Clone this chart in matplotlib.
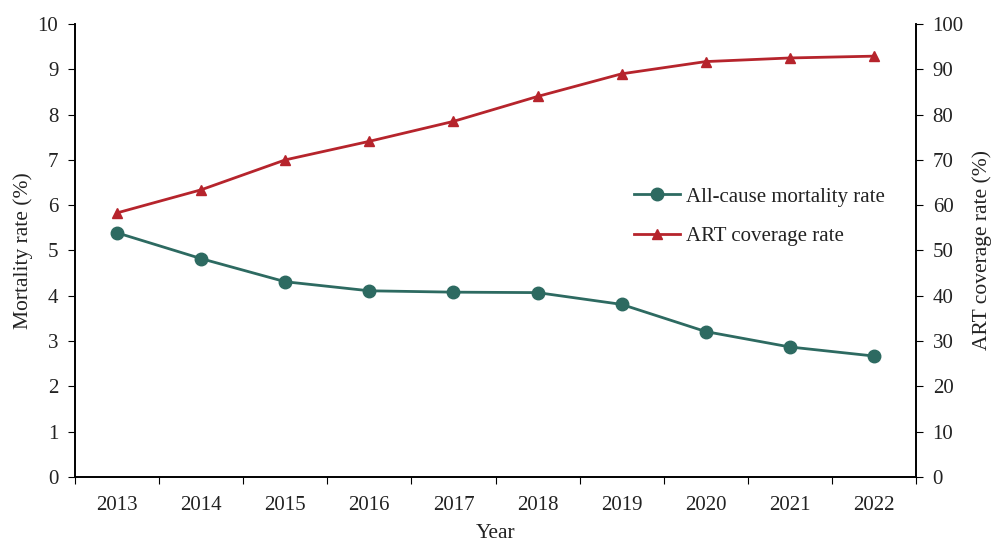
import numpy as np
import matplotlib
matplotlib.use("Agg")
import matplotlib.pyplot as plt

plt.rcParams['font.family'] = ['Liberation Serif', 'DejaVu Serif']
plt.rcParams['font.size'] = 15

years = ['2013', '2014', '2015', '2016', '2017', '2018', '2019', '2020', '2021', '2022']
mortality = [5.39, 4.82, 4.31, 4.11, 4.08, 4.07, 3.81, 3.21, 2.87, 2.67]
art_coverage = [58.3, 63.4, 70.0, 74.1, 78.5, 84.0, 89.0, 91.7, 92.5, 92.9]

teal = '#2d6a61'
red = '#b6242c'
txt = '#222222'

fig = plt.figure(figsize=(9.94, 5.44), dpi=100)
ax = fig.add_axes([0.0755, 0.1232, 0.846, 0.8327])
ax2 = ax.twinx()

x = np.arange(len(years))
l1, = ax.plot(x, mortality, color=teal, lw=2, marker='o', ms=9, label='All-cause mortality rate')
l2, = ax2.plot(x, art_coverage, color=red, lw=2, marker='^', ms=7, label='ART coverage rate')

ax.set_xlim(-0.5, len(years) - 0.5)
ax.set_ylim(0, 10)
ax.set_yticks(range(0, 11))
ax2.set_ylim(0, 100)
ax2.set_yticks(range(0, 101, 10))

# year labels centred between the category ticks
ax.set_xticks(np.arange(-0.5, len(years), 1))
ax.set_xticklabels([])
ax.set_xticks(x, minor=True)
ax.set_xticklabels(years, minor=True)
ax.tick_params(axis='x', which='minor', length=0, pad=14, labelcolor=txt)
ax.tick_params(axis='x', which='major', length=5, direction='out')

for a in (ax, ax2):
    a.spines['top'].set_visible(False)
    a.tick_params(axis='y', length=5, direction='out', pad=7, labelcolor=txt)
    for s in a.spines.values():
        s.set_linewidth(1.2)

ax.set_ylabel('Mortality rate (%)', fontsize=15.5, color=txt, labelpad=3)
ax2.set_ylabel('ART coverage rate (%)', fontsize=15.5, color=txt, labelpad=6)
ax.set_xlabel('Year', fontsize=15.5, color=txt, labelpad=6)

ax.legend(handles=[l1, l2], loc='center left', bbox_to_anchor=(0.642, 0.575),
          frameon=False, fontsize=15, handlelength=2.2, handletextpad=0.3,
          labelspacing=0.95, labelcolor=txt)

fig.savefig('out.png', dpi=100)
